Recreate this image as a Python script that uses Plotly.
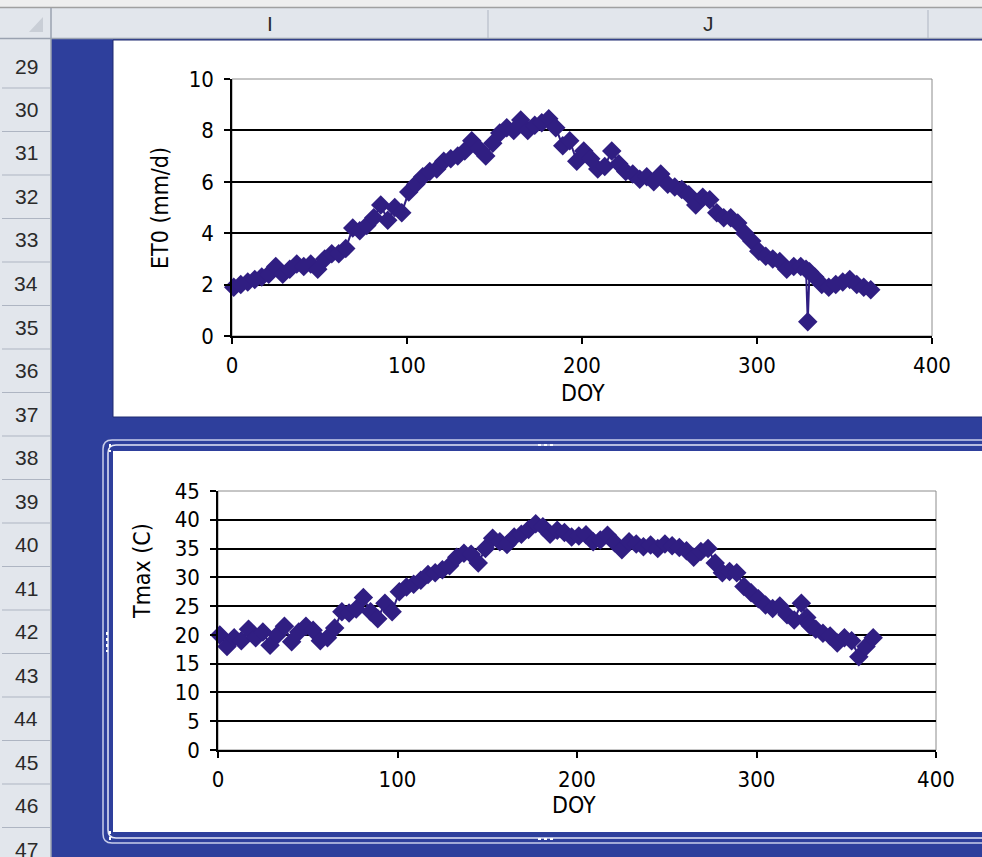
import plotly.graph_objects as go

# ---------------- data ----------------
DOY = [1, 5, 9, 13, 17, 21, 25, 29, 33, 37, 41, 45, 49, 53, 57, 61, 65, 69, 73, 77,
       81, 85, 89, 93, 97, 101, 105, 109, 113, 117, 121, 125, 129, 133, 137, 141, 145,
       149, 153, 157, 161, 165, 169, 173, 177, 181, 185, 189, 193, 197, 201, 205, 209,
       213, 217, 221, 225, 229, 233, 237, 241, 245, 249, 253, 257, 261, 265, 269, 273,
       277, 281, 285, 289, 293, 297, 301, 305, 309, 313, 317, 321, 325, 328, 329, 330,
       333, 337, 341, 345, 349, 353, 357, 361, 365]

ET0 = [1.9, 2.0, 2.1, 2.2, 2.3, 2.4, 2.7, 2.4, 2.6, 2.8, 2.7, 2.8, 2.6, 3.0, 3.2, 3.2,
       3.4, 4.2, 4.1, 4.3, 4.6, 5.1, 4.5, 5.0, 4.8, 5.6, 5.9, 6.2, 6.4, 6.5, 6.8, 6.9,
       7.0, 7.2, 7.6, 7.3, 7.0, 7.5, 7.9, 8.1, 8.0, 8.4, 8.0, 8.2, 8.3, 8.45, 8.1, 7.4,
       7.6, 6.8, 7.2, 6.9, 6.5, 6.6, 7.2, 6.7, 6.4, 6.3, 6.1, 6.2, 6.0, 6.3, 5.9, 5.8,
       5.7, 5.5, 5.1, 5.4, 5.3, 4.8, 4.6, 4.6, 4.4, 4.0, 3.7, 3.3, 3.1, 3.0, 2.9, 2.6,
       2.7, 2.7, 2.6, 0.55, 2.5, 2.3, 2.0, 1.9, 2.0, 2.1, 2.2, 2.0, 1.9, 1.8]

TMAX = [20.0, 18.0, 19.5, 19.0, 21.0, 19.5, 20.5, 18.2, 20.0, 21.5, 18.8, 20.5, 21.5,
        20.8, 19.0, 19.5, 21.2, 24.0, 23.8, 24.5, 26.5, 24.0, 22.8, 25.5, 24.0, 27.5,
        28.3, 28.8, 29.5, 30.5, 30.8, 31.3, 32.0, 33.5, 34.2, 34.0, 32.5, 35.0, 36.8,
        36.2, 35.7, 37.0, 37.5, 38.3, 39.3, 38.8, 37.5, 38.2, 37.8, 37.0, 37.2, 37.4,
        36.2, 36.5, 37.3, 36.0, 34.8, 36.2, 35.8, 35.3, 35.6, 35.0, 35.8, 35.5, 35.2,
        34.6, 33.5, 34.5, 35.0, 32.5, 30.8, 31.0, 30.8, 28.4, 27.3, 26.3, 25.2, 24.6,
        25.0, 23.5, 22.6, 25.5, 23.0, 22.0, 21.6, 21.0, 20.3, 19.8, 18.6, 19.5, 19.0,
        16.2, 18.0, 19.5]

X_TICKS = [0, 100, 200, 300, 400]
ET0_TICKS = [0, 2, 4, 6, 8, 10]
TMAX_TICKS = [0, 5, 10, 15, 20, 25, 30, 35, 40, 45]
ROW_LABELS = ["29", "30", "31", "32", "33", "34", "35", "36", "37", "38",
              "39", "40", "41", "42", "43", "44", "45", "46", "47"]
COL_LABELS = ["I", "J"]

# ---------------- layout helpers ----------------
W, H = 982, 857
def fx(x): return x / W
def fy(y): return 1 - y / H

BLUE = "#2E3F9C"
HDR = "#E2E6EC"
SEP = "#AEB5C2"
MARK = "#301E82"
FONT = "Liberation Sans, Arial, sans-serif"
NARROW = "Liberation Sans Narrow, Arial Narrow, DejaVu Sans Condensed, Liberation Sans"

fig = go.Figure()
fig.add_trace(go.Scatter(x=DOY, y=ET0, mode="lines+markers", xaxis="x", yaxis="y",
                         line=dict(color=MARK, width=2),
                         marker=dict(symbol="diamond", size=15, color=MARK),
                         cliponaxis=False, showlegend=False, hoverinfo="skip"))
fig.add_trace(go.Scatter(x=DOY, y=TMAX, mode="lines+markers", xaxis="x2", yaxis="y2",
                         line=dict(color=MARK, width=2),
                         marker=dict(symbol="diamond", size=15, color=MARK),
                         cliponaxis=False, showlegend=False, hoverinfo="skip"))

shapes = []
def rect(x0, y0, x1, y1, fill, line=None, lw=0, layer="below"):
    shapes.append(dict(type="rect", xref="paper", yref="paper",
                       x0=fx(x0), x1=fx(x1), y0=fy(y1), y1=fy(y0),
                       fillcolor=fill, line=dict(color=line or fill, width=lw),
                       layer=layer))
def hline(x0, x1, y, color, w=1, dash="solid", layer="below"):
    shapes.append(dict(type="line", xref="paper", yref="paper",
                       x0=fx(x0), x1=fx(x1), y0=fy(y), y1=fy(y),
                       line=dict(color=color, width=w, dash=dash), layer=layer))
def vline(x, y0, y1, color, w=1, dash="solid", layer="below"):
    shapes.append(dict(type="line", xref="paper", yref="paper",
                       x0=fx(x), x1=fx(x), y0=fy(y0), y1=fy(y1),
                       line=dict(color=color, width=w, dash=dash), layer=layer))

# sheet background pieces
rect(0, 0, 982, 8, "#EEEEEE")
rect(0, 8, 982, 38, HDR)                 # column header
rect(0, 38, 51, 857, HDR)                # row header
hline(0, 982, 7.5, "#A0A0A0", 1.5)
hline(0, 982, 38.5, "#9AA2B0", 1.5)
vline(51, 8, 857, "#9AA2B0", 1.5)
for xs in (488, 928):
    vline(xs, 10, 38, SEP, 1)
for i in range(len(ROW_LABELS) - 1):
    hline(2, 50, 88 + i * 43.5, SEP, 1)
# corner triangle
shapes.append(dict(type="path", xref="paper", yref="paper",
                   path=f"M {fx(43)} {fy(17)} L {fx(43)} {fy(32)} L {fx(29)} {fy(32)} Z",
                   fillcolor="#C9CED6", line=dict(width=0), layer="below"))

# chart boxes
rect(113, 40, 990, 417, "#FFFFFF", "#1E2A70", 1)
def rrect(x0, y0, x1, y1, r, color, w):
    p = (f"M {fx(x0 + r)} {fy(y0)} L {fx(x1 - r)} {fy(y0)} "
         f"Q {fx(x1)} {fy(y0)} {fx(x1)} {fy(y0 + r)} L {fx(x1)} {fy(y1 - r)} "
         f"Q {fx(x1)} {fy(y1)} {fx(x1 - r)} {fy(y1)} L {fx(x0 + r)} {fy(y1)} "
         f"Q {fx(x0)} {fy(y1)} {fx(x0)} {fy(y1 - r)} L {fx(x0)} {fy(y0 + r)} "
         f"Q {fx(x0)} {fy(y0)} {fx(x0 + r)} {fy(y0)} Z")
    shapes.append(dict(type="path", xref="paper", yref="paper", path=p,
                       line=dict(color=color, width=w), layer="below"))
rrect(103, 440, 1000, 843, 9, "#C9CEEA", 1.5)
rect(113, 451, 990, 832, "#FFFFFF")
rrect(108, 445, 995, 838, 8, "#E6E8F6", 1.5)
# resize handles
hline(538, 556, 445, "#FFFFFF", 2, "dot")
hline(538, 556, 839, "#FFFFFF", 2, "dot")
vline(107, 632, 652, "#FFFFFF", 2, "dot")
vline(110, 444, 452, "#FFFFFF", 2, "dot")
vline(110, 831, 840, "#FFFFFF", 2, "dot")

# plot area borders
for xd, yd in (("x domain", "y domain"), ("x2 domain", "y2 domain")):
    shapes.append(dict(type="rect", xref=xd, yref=yd, x0=0, x1=1, y0=0, y1=1,
                       line=dict(color="#8C8C8C", width=1), fillcolor="rgba(0,0,0,0)",
                       layer="below"))

annotations = []
for i, lab in enumerate(ROW_LABELS):
    annotations.append(dict(text=lab, x=fx(26), y=fy(66 + i * 43.5), xref="paper",
                            yref="paper", showarrow=False, xanchor="center",
                            yanchor="middle",
                            font=dict(family=FONT, size=21, color="#2A2A2A")))
for lab, xc in zip(COL_LABELS, (270, 708)):
    annotations.append(dict(text=lab, x=fx(xc), y=fy(24), xref="paper", yref="paper",
                            showarrow=False, xanchor="center", yanchor="middle",
                            font=dict(family=FONT, size=21, color="#2A2A2A")))
def title(text, x, y, angle=0):
    annotations.append(dict(text=text, x=fx(x), y=fy(y), xref="paper", yref="paper",
                            showarrow=False, xanchor="center", yanchor="middle",
                            textangle=angle, font=dict(family=NARROW, size=23,
                                                       color="#000000")))
title("DOY", 583, 393)
title("ET0 (mm/d)", 160, 208, -90)
title("DOY", 574, 805)
title("Tmax (C)", 142, 571, -90)

axis_common = dict(showline=True, linecolor="#000000", linewidth=1.5,
                   ticks="outside", ticklen=6, tickcolor="#000000", tickwidth=1.5,
                   tickfont=dict(family=NARROW, size=22, color="#000000"),
                   zeroline=False, fixedrange=True, automargin=False)

fig.update_layout(
    template="none",
    width=W, height=H, margin=dict(l=0, r=0, t=0, b=0, pad=0, autoexpand=False),
    paper_bgcolor=BLUE, plot_bgcolor="#C0C0C0",
    showlegend=False,
    xaxis=dict(domain=[fx(232), fx(932)], range=[0, 400], tickvals=X_TICKS,
               showgrid=False, anchor="y", ticklabelstandoff=3, **axis_common),
    yaxis=dict(domain=[fy(336), fy(79)], range=[0, 10], tickvals=ET0_TICKS,
               showgrid=True, gridcolor="#000000", gridwidth=2, anchor="x",
               ticklabelstandoff=6, **axis_common),
    xaxis2=dict(domain=[fx(218), fx(936)], range=[0, 400], tickvals=X_TICKS,
                showgrid=False, anchor="y2", ticklabelstandoff=3, **axis_common),
    yaxis2=dict(domain=[fy(750), fy(491)], range=[0, 45], tickvals=TMAX_TICKS,
                showgrid=True, gridcolor="#000000", gridwidth=2, anchor="x2",
                ticklabelstandoff=6, **axis_common),
    shapes=shapes, annotations=annotations,
)

fig.write_html("out.html", config={"displayModeBar": False},
               post_script="document.body.style.margin='0';"
                           "document.body.style.overflow='hidden';")
